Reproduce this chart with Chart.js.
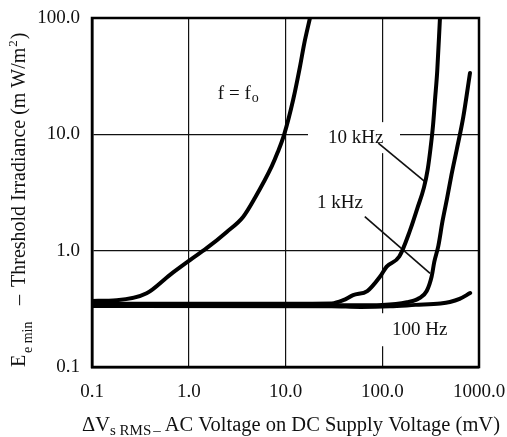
<!DOCTYPE html>
<html><head><meta charset="utf-8">
<script src="https://cdn.jsdelivr.net/npm/chart.js@4/dist/chart.umd.min.js"></script>
<style>html,body{margin:0;padding:0;background:#fff;}canvas{display:block;}</style>
</head><body>
<canvas id="c" width="507" height="437"></canvas>
<script>
// ---- axis ticks ----
const xTickValues = [0.1, 1, 10, 100, 1000];
const xTickLabels = ['0.1', '1.0', '10.0', '100.0', '1000.0'];
const yTickValues = [0.1, 1, 10, 100];
const yTickLabels = ['0.1', '1.0', '10.0', '100.0'];

// ---- curves: [ΔVs RMS (mV), Ee min (mW/m²)] ----
const curveFo = [[0.1,0.37],[0.18,0.375],[0.367,0.43],[0.64,0.62],[1.03,0.83],[1.53,1.05],[2.47,1.45],[3.66,1.96],[4.84,2.85],[7.2,5.3],[8.3,7],[9.7,10],[12,19.8],[14.1,38],[15.6,60],[17.9,100]];
const curve10k = [[0.1,0.35],[10,0.35],[30,0.352],[39.5,0.375],[50,0.415],[70,0.45],[95,0.6],[111,0.73],[150,0.89],[194,1.5],[230,2.3],[270,3.5],[295,5],[315,7.5],[335,12],[351,19.8],[370,35],[395,100]];
const curve1k = [[0.1,0.34],[50,0.34],[100,0.342],[180,0.36],[240,0.39],[288,0.45],[324,0.6],[345,0.8],[380,1.1],[420,1.8],[467,2.8],[520,4.5],[588,7.35],[689,14.2],[807,33.7]];
const curve100 = [[0.1,0.335],[30,0.333],[60,0.328],[120,0.332],[220,0.342],[400,0.352],[500,0.362],[630,0.385],[810,0.432]];

// ---- leader lines from labels to curves ----
const leader10k = [[91,8.4],[276,3.92]];
const leader1k = [[66,1.96],[312,0.637]];

// ---- curve labels: text and anchor (data coords: left, baseline) ----
const labelFo = {main:'f = f', sub:'o', at:[2.0, 20.2]};
const label10k = {main:'10 kHz', at:[27.5, 8.4]};
const label1k = {main:'1 kHz', at:[21.2, 2.33]};
const label100 = {main:'100 Hz', at:[126, 0.1875]};

const xTitleParts = ['ΔV', 's RMS', '–', 'AC Voltage on DC Supply Voltage (mV)'];
const yTitleParts = ['E', 'e min', '–', 'Threshold Irradiance (m W/m', '2', ')'];

const serif = '"Liberation Serif", "Times New Roman", serif';
const pts = a => a.map(([x, y]) => ({x, y}));

function px(chart, v) { return chart.scales.x.getPixelForValue(v); }
function py(chart, v) { return chart.scales.y.getPixelForValue(v); }

const decor = {
  id: 'decor',
  beforeDatasetsDraw(chart) {
    const c = chart.ctx;
    c.save();
    c.fillStyle = '#fff';
    // white boxes behind labels interrupt the grid lines
    let ax = px(chart, label10k.at[0]), ay = py(chart, label10k.at[1]);
    c.fillRect(ax - 20, ay - 21, 92, 31);
    ax = px(chart, label100.at[0]); ay = py(chart, label100.at[1]);
    c.fillRect(ax - 17, ay - 22, 80, 33);
    c.restore();
  },
  afterDatasetsDraw(chart) {
    const c = chart.ctx, a = chart.chartArea;
    c.save();
    c.strokeStyle = '#000';
    c.lineWidth = 2.5;
    c.strokeRect(a.left, a.top, a.right - a.left, a.bottom - a.top);
    c.restore();
  },
  afterDraw(chart) {
    const c = chart.ctx;
    c.save();
    c.fillStyle = '#111';
    c.textBaseline = 'alphabetic';
    c.textAlign = 'left';
    const f = s => s + 'px ' + serif;
    // curve labels
    let x = px(chart, labelFo.at[0]), y = py(chart, labelFo.at[1]);
    c.font = f(19); c.fillText(labelFo.main, x, y);
    let w = c.measureText(labelFo.main).width;
    c.font = f(14); c.fillText(labelFo.sub, x + w + 1, y + 3);
    for (const L of [label10k, label1k, label100]) {
      c.font = f(19);
      c.fillText(L.main, px(chart, L.at[0]), py(chart, L.at[1]));
    }
    // x title
    let cx = 82; const by = 431;
    c.font = f(20.5); c.fillText(xTitleParts[0], cx, by); cx += c.measureText(xTitleParts[0]).width;
    c.font = f(15); c.fillText(xTitleParts[1], cx, by + 4); cx += c.measureText(xTitleParts[1]).width + 2;
    c.font = f(15); c.fillText(xTitleParts[2], cx, by + 4); cx += c.measureText(xTitleParts[2]).width + 4;
    c.font = f(20.5); c.fillText(xTitleParts[3], cx, by);
    // y title (rotated)
    c.translate(25, 367);
    c.rotate(-Math.PI / 2);
    c.font = f(20); c.fillText(yTitleParts[0], 0, 0);
    c.font = f(14); c.fillText(yTitleParts[1], 14, 7);
    c.font = f(20); c.fillText(yTitleParts[2], 62, 0);
    let tx = 80;
    c.fillText(yTitleParts[3], tx, 0); tx += c.measureText(yTitleParts[3]).width;
    c.font = f(13); c.fillText(yTitleParts[4], tx + 1, -8); tx += c.measureText(yTitleParts[4]).width + 2;
    c.font = f(20); c.fillText(yTitleParts[5], tx, 0);
    c.restore();
  }
};

const curveStyle = {borderColor: '#000', borderWidth: 4, pointRadius: 0, fill: false, cubicInterpolationMode: 'monotone', borderCapStyle: 'round', borderJoinStyle: 'round'};
const leaderStyle = {borderColor: '#111', borderWidth: 1.7, pointRadius: 0, fill: false, tension: 0};

const tickLabel = (vals, labels) => v => {
  const i = vals.findIndex(t => Math.abs(t - v) / t < 1e-6);
  return i >= 0 ? labels[i] : '';
};

new Chart(document.getElementById('c'), {
  type: 'line',
  data: {
    datasets: [
      Object.assign({label: 'f = fo', data: pts(curveFo)}, curveStyle),
      Object.assign({label: '10 kHz', data: pts(curve10k)}, curveStyle),
      Object.assign({label: '1 kHz', data: pts(curve1k)}, curveStyle),
      Object.assign({label: '100 Hz', data: pts(curve100)}, curveStyle),
      Object.assign({label: 'leader 10 kHz', data: pts(leader10k)}, leaderStyle),
      Object.assign({label: 'leader 1 kHz', data: pts(leader1k)}, leaderStyle)
    ]
  },
  options: {
    responsive: false,
    animation: false,
    devicePixelRatio: 1,
    layout: {padding: {top: 18, right: 28, left: 0, bottom: 0}},
    plugins: {legend: {display: false}, tooltip: {enabled: false}},
    scales: {
      x: {
        type: 'logarithmic', min: 0.1, max: 1000,
        afterBuildTicks: s => { s.ticks = xTickValues.map(v => ({value: v})); },
        afterFit: s => { s.height = 70; s.paddingLeft = 0; s.paddingRight = 0; },
        ticks: {callback: tickLabel(xTickValues, xTickLabels), font: {family: serif, size: 19}, color: '#111', padding: 14, autoSkip: false, maxRotation: 0, minRotation: 0},
        grid: {color: '#111', lineWidth: 1.2, drawTicks: false},
        border: {display: true, color: '#000', width: 2.5}
      },
      y: {
        type: 'logarithmic', min: 0.1, max: 100,
        afterBuildTicks: s => { s.ticks = yTickValues.map(v => ({value: v})); },
        afterFit: s => { s.width = 92; s.paddingTop = 0; s.paddingBottom = 0; },
        ticks: {callback: tickLabel(yTickValues, yTickLabels), font: {family: serif, size: 19}, color: '#111', padding: 12, autoSkip: false},
        grid: {color: '#111', lineWidth: 1.2, drawTicks: false},
        border: {display: true, color: '#000', width: 2.5}
      }
    }
  },
  plugins: [decor]
});
</script>
</body></html>
